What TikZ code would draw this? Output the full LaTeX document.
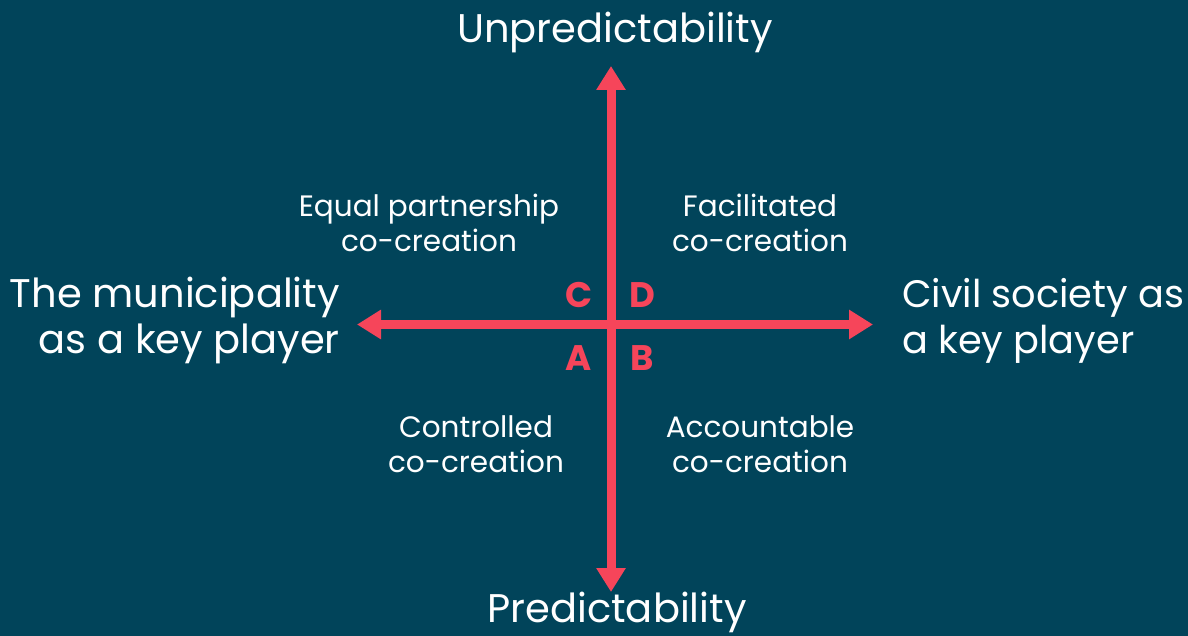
\documentclass[tikz,border=0pt]{standalone}
\usepackage{fontspec}
\setmainfont{Poppins}
\usetikzlibrary{arrows.meta}
\definecolor{bg}{HTML}{01445A}
\definecolor{accent}{HTML}{F6455A}
\tikzset{
  axis/.style={draw=accent, line width=9pt, -{Triangle[width=28pt,length=24pt]}},
  biglabel/.style={text=white, font=\fontsize{40}{46}\selectfont, inner sep=0pt, anchor=base},
  rightlabel/.style={biglabel, font=\fontsize{38.3}{46}\selectfont, anchor=base west},
  quadlabel/.style={text=white, font=\fontsize{29.5}{35}\selectfont, inner sep=0pt, anchor=base},
  letter/.style={text=accent, font=\fontsize{35.5}{40}\selectfont\bfseries, inner sep=0pt, anchor=base}
}
\begin{document}
\begin{tikzpicture}[x=1pt,y=-1pt]
\fill[bg] (0,0) rectangle (1188,636);
\useasboundingbox (0,0) rectangle (1188,636);
\coordinate (center) at (611,324.5);
\coordinate (top) at (611,66);
\coordinate (bottom) at (611,592);
\coordinate (left) at (357,324.5);
\coordinate (right) at (873,324.5);
\draw[axis] (center) -- (top);
\draw[axis] (center) -- (bottom);
\draw[axis] (center) -- (left);
\draw[axis] (center) -- (right);
\node[biglabel] (up) at (615,43) {Unpredictability};
\node[biglabel] (pr) at (617,622) {Predictability};
\node[biglabel, anchor=base east] (mun1) at (340,307) {The municipality};
\node[biglabel, anchor=base east] (mun2) at (340,353) {as a key player};
\node[rightlabel] (civ1) at (902,307) {Civil society as};
\node[rightlabel] (civ2) at (902,353) {a key player};
\node[quadlabel] (qc1) at (429,217) {Equal partnership};
\node[quadlabel] (qc2) at (429,252) {co-creation};
\node[quadlabel] (qd1) at (760,217) {Facilitated};
\node[quadlabel] (qd2) at (760,252) {co-creation};
\node[quadlabel] (qa1) at (476,437) {Controlled};
\node[quadlabel] (qa2) at (476,472) {co-creation};
\node[quadlabel] (qb1) at (760,437) {Accountable};
\node[quadlabel] (qb2) at (760,472) {co-creation};
\node[letter] (lc) at (579,307) {C};
\node[letter] (ld) at (642,307) {D};
\node[letter] (la) at (579,370) {A};
\node[letter] (lb) at (642,370) {B};
\end{tikzpicture}
\end{document}
